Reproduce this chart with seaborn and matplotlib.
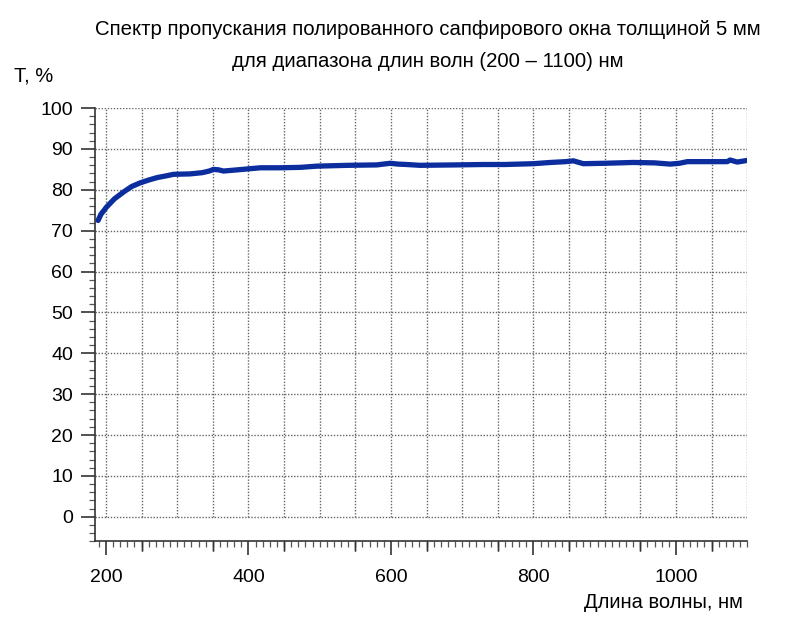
import matplotlib
matplotlib.use("Agg")
import matplotlib.pyplot as plt
import seaborn as sns
import pandas as pd
from matplotlib.ticker import MultipleLocator

# Transmission spectrum data
wavelength = [189, 193, 201, 212, 225, 236, 248, 260, 272, 284, 295, 318, 335,
              345, 351, 358, 365, 385, 417, 445, 473, 496, 540, 580, 599, 610,
              622, 641, 690, 730, 760, 800, 824, 845, 856, 862, 870, 900, 940,
              970, 992, 1005, 1016, 1050, 1072, 1076, 1086, 1100]
transmission = [72.5, 74.0, 75.8, 77.8, 79.5, 80.8, 81.7, 82.4, 83.0, 83.4, 83.8,
                83.9, 84.2, 84.6, 85.0, 84.9, 84.6, 84.9, 85.4, 85.4, 85.5, 85.8,
                86.0, 86.1, 86.5, 86.3, 86.2, 86.0, 86.1, 86.2, 86.2, 86.4, 86.7,
                86.9, 87.1, 86.8, 86.4, 86.5, 86.7, 86.6, 86.3, 86.5, 86.9, 86.9,
                86.9, 87.3, 86.8, 87.2]
df = pd.DataFrame({'wl': wavelength, 'T': transmission})

sns.set_style("white")
plt.rcParams['font.family'] = ['Liberation Sans', 'DejaVu Sans']
plt.rcParams['text.color'] = 'black'
plt.rcParams['xtick.color'] = 'black'
plt.rcParams['ytick.color'] = 'black'

fig = plt.figure(figsize=(8, 6.36), dpi=100)
ax = fig.add_axes([0.119, 0.149, 0.815, 0.681])

sns.lineplot(data=df, x='wl', y='T', ax=ax, color='#0b2d9e', linewidth=3.8)

ax.set_xlim(185, 1100)
ax.set_ylim(-6, 100)
ax.set_xticks([200, 400, 600, 800, 1000])
ax.xaxis.set_minor_locator(MultipleLocator(10))
ax.set_yticks(range(0, 101, 10))
ax.yaxis.set_minor_locator(MultipleLocator(2))

# grid: horizontal every 10 %, vertical every 50 nm
for y in range(0, 101, 10):
    ax.axhline(y, color='#666666', linestyle=(0, (1, 1.2)), linewidth=1.0, zorder=0)
for x in range(200, 1101, 50):
    ax.axvline(x, ymin=(0 + 6) / 106, ymax=1, color='#666666',
               linestyle=(0, (1, 1.2)), linewidth=1.0, zorder=0)

# medium ticks at 50 nm on x axis
for x in range(250, 1101, 100):
    ax.plot([x, x], [-6, -6], marker=3, markersize=7, color='#333333',
            clip_on=False)

ax.spines['top'].set_visible(False)
ax.spines['right'].set_visible(False)
for s in ['left', 'bottom']:
    ax.spines[s].set_color('#333333')
    ax.spines[s].set_linewidth(1.2)

ax.tick_params(axis='both', which='major', direction='out', length=10, width=1.2,
               color='#333333', labelcolor='black', labelsize=14, pad=6,
               left=True, bottom=True)
ax.tick_params(axis='both', which='minor', direction='out', length=4, width=0.9,
               color='#555555', left=True, bottom=True)
ax.tick_params(axis='x', which='major', pad=10)

ax.set_xlabel('')
ax.set_ylabel('')

fig.text(0.535, 0.953, 'Спектр пропускания полированного сапфирового окна толщиной 5 мм',
         ha='center', va='center', fontsize=14.7)
fig.text(0.535, 0.903, 'для диапазона длин волн (200 – 1100) нм',
         ha='center', va='center', fontsize=14.7)
fig.text(0.018, 0.880, 'T, %', ha='left', va='center', fontsize=14.5)
fig.text(0.928, 0.053, 'Длина волны, нм', ha='right', va='center', fontsize=14.5)

fig.savefig('out.png', dpi=100)
